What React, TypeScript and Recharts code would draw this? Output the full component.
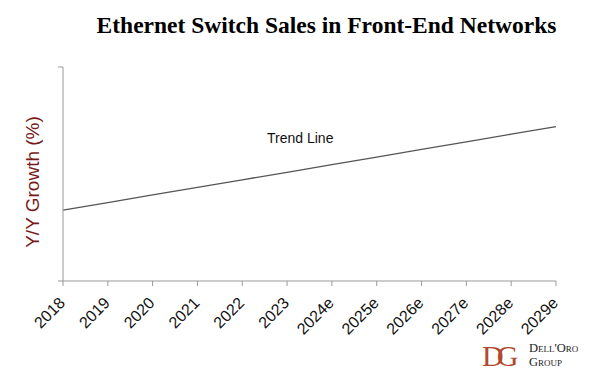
import { LineChart, Line, XAxis, YAxis } from "recharts";

const years = ["2018", "2019", "2020", "2021", "2022", "2023", "2024e", "2025e", "2026e", "2027e", "2028e", "2029e"];
const trend = [33.1, 36.6, 40.2, 43.7, 47.3, 50.8, 54.4, 57.9, 61.5, 65.0, 68.6, 72.1];
const yTicks = [0, 100];

const data = years.map((year, i) => ({ year, trend: trend[i] }));

const sans = "Arial, 'Liberation Sans', sans-serif";
const serif = "'Times New Roman', 'Liberation Serif', serif";

const YearTick = ({ x, payload }: any) => (
  <g transform={`translate(${x + 3},304) rotate(-45)`}>
    <text x={0} y={0} textAnchor="end" fill="#111" fontSize={16} fontFamily={sans}>
      {payload.value}
    </text>
  </g>
);

export default function App() {
  return (
    <div style={{ position: "absolute", left: 0, top: 0, width: 600, height: 383, background: "#fff" }}>
      <LineChart width={600} height={383} data={data} margin={{ top: 67, right: 44, bottom: 42, left: 0 }}>
        <XAxis
          dataKey="year"
          height={60}
          interval={0}
          stroke="#999"
          tickSize={5}
          tick={<YearTick />}
        />
        <YAxis
          width={63}
          domain={[0, 100]}
          ticks={yTicks}
          tickSize={5}
          stroke="#999"
          tickFormatter={() => ""}
          label={{
            value: "Y/Y Growth (%)",
            angle: -90,
            position: "center",
            content: () => (
              <text
                x={0}
                y={0}
                transform="translate(39,182) rotate(-90)"
                textAnchor="middle"
                fill="#761a1a"
                fontSize={19}
                fontFamily={sans}
              >
                Y/Y Growth (%)
              </text>
            ),
          }}
        />
        <Line
          type="linear"
          dataKey="trend"
          stroke="#555"
          strokeWidth={1.3}
          dot={false}
          isAnimationActive={false}
        />
      </LineChart>
      <div
        style={{
          position: "absolute",
          left: 0,
          top: 12,
          width: 653,
          textAlign: "center",
          fontFamily: serif,
          fontWeight: "bold",
          fontSize: 23.5,
          color: "#000",
        }}
      >
        Ethernet Switch Sales in Front-End Networks
      </div>
      <div style={{ position: "absolute", left: 267, top: 130, fontFamily: sans, fontSize: 14, color: "#111" }}>
        Trend Line
      </div>
      <div
        style={{
          position: "absolute",
          left: 482,
          top: 340,
          fontFamily: serif,
          fontSize: 30,
          color: "#b0492f",
          letterSpacing: -7,
          lineHeight: "32px",
        }}
      >
        DG
      </div>
      <div
        style={{
          position: "absolute",
          left: 529,
          top: 341,
          fontFamily: serif,
          fontSize: 12.5,
          color: "#222",
          fontVariant: "small-caps",
          lineHeight: "14px",
        }}
      >
        <div>Dell'Oro</div>
        <div>Group</div>
      </div>
    </div>
  );
}
